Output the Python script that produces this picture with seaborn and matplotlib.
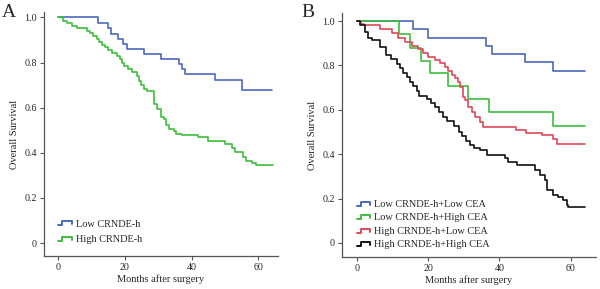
"""
Kaplan-Meier overall survival curves by CRNDE-h expression (A)
and by CRNDE-h combined with CEA level (B).
"""
import pandas as pd
import seaborn as sns
import matplotlib.pyplot as plt
from matplotlib.lines import Line2D
from matplotlib.legend_handler import HandlerBase

sns.set_style("ticks")
plt.rcParams["font.family"] = ["Liberation Serif", "DejaVu Serif"]

# panel A: survival by CRNDE-h
a_low_t = [0, 11.9, 15.1, 15.9, 17.9, 19.6, 20.8, 25.9, 30.9, 36.1, 37.1, 38.1, 47.0, 55.2, 64.2]
a_low_s = [1.0, 0.975, 0.953, 0.928, 0.906, 0.882, 0.860, 0.839, 0.816, 0.792, 0.770, 0.748, 0.724, 0.680, 0.680]

a_high_t = [0, 1.6, 2.6, 4.1, 5.8, 8.8, 9.6, 10.6, 11.6, 12.3, 13.3, 14.2, 15.1, 16.1, 17.6,
            18.6, 19.1, 19.8, 20.9, 22.3, 23.6, 24.3, 25.0, 25.8, 26.7, 28.7, 28.9, 29.7,
            30.8, 31.8, 32.5, 33.3, 34.7, 35.2, 37.0, 42.0, 45.0, 50.0, 52.0, 53.0, 55.3,
            56.2, 58.2, 59.2, 64.3]
a_high_s = [1.0, 0.985, 0.973, 0.962, 0.951, 0.941, 0.929, 0.917, 0.903, 0.891, 0.879, 0.867,
            0.855, 0.844, 0.830, 0.814, 0.796, 0.785, 0.771, 0.760, 0.740, 0.720, 0.702, 0.684,
            0.675, 0.649, 0.617, 0.596, 0.560, 0.549, 0.524, 0.507, 0.497, 0.484, 0.479, 0.472,
            0.450, 0.440, 0.423, 0.403, 0.383, 0.364, 0.354, 0.345, 0.345]

# panel B: survival by CRNDE-h and CEA
b_ll_t = [0, 15.9, 20.1, 36.2, 38.0, 47.2, 55.1, 64.0]
b_ll_s = [1.0, 0.963, 0.925, 0.889, 0.851, 0.814, 0.776, 0.776]

b_lh_t = [0, 11.9, 14.9, 17.9, 20.5, 25.7, 31.1, 37.1, 55.1, 64.0]
b_lh_s = [1.0, 0.940, 0.880, 0.821, 0.764, 0.707, 0.649, 0.589, 0.528, 0.528]

b_hl_t = [0, 1.1, 2.0, 6.5, 9.8, 11.7, 13.5, 15.4, 17.3, 18.7, 20.1, 22.0, 23.4, 24.8, 25.7,
          26.6, 27.6, 28.5, 29.0, 29.7, 30.4, 31.3, 32.2, 33.2, 34.6, 35.3, 44.8, 47.6, 51.9,
          55.1, 56.1, 64.0]
b_hl_s = [1.0, 0.989, 0.982, 0.963, 0.944, 0.925, 0.907, 0.889, 0.872, 0.854, 0.836, 0.824,
          0.809, 0.794, 0.776, 0.757, 0.742, 0.727, 0.701, 0.659, 0.644, 0.614, 0.592, 0.569,
          0.546, 0.521, 0.509, 0.497, 0.486, 0.467, 0.446, 0.446]

b_hh_t = [0, 0.9, 2.3, 3.3, 4.2, 6.5, 8.2, 9.6, 11.2, 12.1, 13.1, 14.0, 15.0, 15.9, 16.8, 17.6,
          19.6, 20.8, 22.0, 23.2, 24.3, 25.2, 27.3, 28.7, 29.4, 30.6, 31.8, 33.0, 34.5, 36.5,
          41.6, 42.5, 44.9, 50.0, 51.4, 52.8, 53.3, 55.1, 56.5, 57.9, 58.9, 59.3, 64.0]
b_hh_s = [1.0, 0.982, 0.949, 0.925, 0.914, 0.881, 0.845, 0.827, 0.805, 0.787, 0.767, 0.749,
          0.727, 0.707, 0.685, 0.662, 0.647, 0.632, 0.611, 0.589, 0.566, 0.551, 0.527, 0.502,
          0.482, 0.461, 0.441, 0.430, 0.417, 0.396, 0.381, 0.366, 0.351, 0.329, 0.306, 0.284,
          0.239, 0.216, 0.209, 0.194, 0.171, 0.161, 0.161]

a_labels = ["Low CRNDE-h", "High CRNDE-h"]
b_labels = ["Low CRNDE-h+Low CEA", "Low CRNDE-h+High CEA",
            "High CRNDE-h+Low CEA", "High CRNDE-h+High CEA"]

x_ticks = [0, 20, 40, 60]
y_ticks = [0, 0.2, 0.4, 0.6, 0.8, 1.0]
y_ticklabels = ["0", "0.2", "0.4", "0.6", "0.8", "1.0"]

BLUE, GREEN, RED, BLACK = "#4a68c0", "#3cbf3c", "#e04858", "#111111"


def long_df(groups):
    """Stack (label, times, survival) tuples into one long frame."""
    frames = [pd.DataFrame({"t": t, "s": s, "group": lab}) for lab, t, s in groups]
    return pd.concat(frames, ignore_index=True)


class StepHandler(HandlerBase):
    """Small step glyph as used by SPSS survival legends."""

    def create_artists(self, legend, orig_handle, xd, yd, width, height, fontsize, trans):
        xs = [-xd + v for v in [0, 0.3 * width, 0.3 * width, width, width]]
        ys = [-yd + v for v in [0.15 * height, 0.15 * height, 0.75 * height, 0.75 * height, 0.3 * height]]
        line = Line2D(xs, ys, color=orig_handle.get_color(), lw=1.4, transform=trans)
        return [line]


def style_axis(ax, xlim, ylim):
    ax.set_xlim(*xlim)
    ax.set_ylim(*ylim)
    ax.set_xticks(x_ticks)
    ax.set_yticks(y_ticks)
    ax.set_yticklabels(y_ticklabels)
    ax.tick_params(labelsize=7.2, length=3, width=0.8, color="#555555", pad=2)
    for side in ["top", "right"]:
        ax.spines[side].set_visible(False)
    for side in ["left", "bottom"]:
        ax.spines[side].set_color("#555555")
        ax.spines[side].set_linewidth(0.9)
    ax.set_xlabel("Months after surgery", fontsize=7.5, labelpad=2)
    ax.set_ylabel("Overall Survival", fontsize=7.5, labelpad=4)


fig = plt.figure(figsize=(6, 2.89), dpi=100)
ax_a = fig.add_axes([0.0733, 0.1142, 0.39, 0.8443])
ax_b = fig.add_axes([0.5695, 0.1118, 0.4238, 0.8422])

df_a = long_df([(a_labels[0], a_low_t, a_low_s), (a_labels[1], a_high_t, a_high_s)])
sns.lineplot(data=df_a, x="t", y="s", hue="group", hue_order=a_labels,
             palette=[BLUE, GREEN], drawstyle="steps-post", estimator=None,
             linewidth=1.2, ax=ax_a, legend=False)
style_axis(ax_a, (-4.2, 65.9), (-0.0575, 1.024))

df_b = long_df([(b_labels[0], b_ll_t, b_ll_s), (b_labels[1], b_lh_t, b_lh_s),
                (b_labels[2], b_hl_t, b_hl_s), (b_labels[3], b_hh_t, b_hh_s)])
sns.lineplot(data=df_b, x="t", y="s", hue="group", hue_order=b_labels,
             palette=[BLUE, GREEN, RED, BLACK], drawstyle="steps-post", estimator=None,
             linewidth=1.2, ax=ax_b, legend=False)
style_axis(ax_b, (-4.2, 67.1), (-0.062, 1.035))

# legends with step glyphs
handles_a = [Line2D([], [], color=c) for c in [BLUE, GREEN]]
ax_a.legend(handles_a, a_labels, loc="lower left", bbox_to_anchor=(0.03, 0.02),
            handler_map={Line2D: StepHandler()}, frameon=False, fontsize=7.4,
            handlelength=1.3, handletextpad=0.4, labelspacing=0.6, borderpad=0.2)

handles_b = [Line2D([], [], color=c) for c in [BLUE, GREEN, RED, BLACK]]
ax_b.legend(handles_b, b_labels, loc="lower left", bbox_to_anchor=(0.03, 0.0),
            handler_map={Line2D: StepHandler()}, frameon=False, fontsize=7.4,
            handlelength=1.3, handletextpad=0.4, labelspacing=0.42, borderpad=0.2)

fig.text(0.003, 0.985, "A", fontsize=14, va="top", ha="left")
fig.text(0.503, 0.985, "B", fontsize=14, va="top", ha="left")

fig.savefig("out.png", dpi=100)
